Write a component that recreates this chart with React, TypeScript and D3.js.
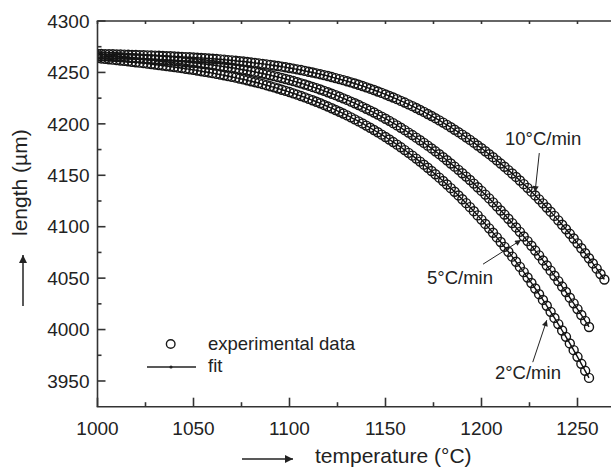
import React from 'react';
import * as d3 from 'd3';

const W = 611;
const H = 469;
const FONT = '"Liberation Sans", Arial, Helvetica, sans-serif';

// sampling grid of the dilatometer record (°C)
const TEMP_START = 1000;
const TEMP_STEP = 2;

// length (µm), one value per TEMP_STEP
const rate10 = [
  4268.0, 4267.9, 4267.8, 4267.7, 4267.6, 4267.5, 4267.4, 4267.3, 4267.2, 4267.1,
  4266.9, 4266.8, 4266.7, 4266.6, 4266.4, 4266.3, 4266.2, 4266.0, 4265.8, 4265.7,
  4265.5, 4265.3, 4265.1, 4264.9, 4264.7, 4264.5, 4264.3, 4264.0, 4263.8, 4263.5,
  4263.3, 4263.0, 4262.7, 4262.4, 4262.0, 4261.7, 4261.3, 4260.9, 4260.6, 4260.1,
  4259.7, 4259.3, 4258.8, 4258.3, 4257.8, 4257.3, 4256.7, 4256.2, 4255.6, 4255.0,
  4254.3, 4253.7, 4253.0, 4252.3, 4251.5, 4250.7, 4249.9, 4249.1, 4248.3, 4247.4,
  4246.5, 4245.5, 4244.5, 4243.5, 4242.5, 4241.4, 4240.3, 4239.2, 4238.0, 4236.8,
  4235.5, 4234.2, 4232.9, 4231.5, 4230.1, 4228.6, 4227.1, 4225.6, 4224.0, 4222.3,
  4220.7, 4218.9, 4217.2, 4215.4, 4213.5, 4211.6, 4209.6, 4207.6, 4205.5, 4203.4,
  4201.2, 4199.0, 4196.7, 4194.3, 4191.9, 4189.5, 4187.0, 4184.4, 4181.7, 4179.0,
  4176.3, 4173.4, 4170.5, 4167.6, 4164.5, 4161.4, 4158.3, 4155.0, 4151.7, 4148.4,
  4144.9, 4141.4, 4137.8, 4134.1, 4130.4, 4126.6, 4122.7, 4118.7, 4114.6, 4110.5,
  4106.2, 4101.9, 4097.5, 4093.1, 4088.5, 4083.8, 4079.1, 4074.2, 4069.3, 4064.3,
  4059.2, 4054.0, 4048.7,
];

const rate5 = [
  4266.0, 4265.8, 4265.6, 4265.4, 4265.2, 4265.0, 4264.8, 4264.6, 4264.3, 4264.1,
  4263.9, 4263.7, 4263.4, 4263.2, 4262.9, 4262.6, 4262.4, 4262.1, 4261.8, 4261.5,
  4261.2, 4260.8, 4260.5, 4260.1, 4259.7, 4259.4, 4259.0, 4258.5, 4258.1, 4257.6,
  4257.2, 4256.7, 4256.1, 4255.6, 4255.0, 4254.5, 4253.9, 4253.2, 4252.6, 4251.9,
  4251.2, 4250.5, 4249.7, 4248.9, 4248.1, 4247.3, 4246.4, 4245.5, 4244.6, 4243.6,
  4242.6, 4241.6, 4240.5, 4239.4, 4238.3, 4237.1, 4235.9, 4234.7, 4233.4, 4232.1,
  4230.7, 4229.3, 4227.9, 4226.4, 4224.8, 4223.3, 4221.6, 4220.0, 4218.3, 4216.5,
  4214.7, 4212.9, 4211.0, 4209.0, 4207.0, 4205.0, 4202.9, 4200.7, 4198.5, 4196.2,
  4193.9, 4191.5, 4189.1, 4186.6, 4184.1, 4181.5, 4178.8, 4176.1, 4173.3, 4170.5,
  4167.6, 4164.6, 4161.5, 4158.4, 4155.3, 4152.0, 4148.7, 4145.4, 4141.9, 4138.4,
  4134.8, 4131.2, 4127.5, 4123.7, 4119.8, 4115.8, 4111.8, 4107.7, 4103.5, 4099.3,
  4095.0, 4090.5, 4086.0, 4081.5, 4076.8, 4072.1, 4067.2, 4062.3, 4057.3, 4052.3,
  4047.1, 4041.8, 4036.5, 4031.0, 4025.5, 4019.9, 4014.2, 4008.4, 4002.5,
];

const rate2 = [
  4264.0, 4263.6, 4263.2, 4262.8, 4262.4, 4262.0, 4261.6, 4261.2, 4260.8, 4260.3,
  4259.9, 4259.5, 4259.0, 4258.6, 4258.1, 4257.7, 4257.2, 4256.7, 4256.2, 4255.7,
  4255.2, 4254.7, 4254.2, 4253.6, 4253.0, 4252.5, 4251.9, 4251.2, 4250.6, 4250.0,
  4249.3, 4248.6, 4247.9, 4247.2, 4246.4, 4245.7, 4244.9, 4244.0, 4243.2, 4242.3,
  4241.4, 4240.5, 4239.6, 4238.6, 4237.6, 4236.5, 4235.5, 4234.4, 4233.2, 4232.1,
  4230.9, 4229.6, 4228.4, 4227.1, 4225.7, 4224.3, 4222.9, 4221.5, 4220.0, 4218.4,
  4216.8, 4215.2, 4213.5, 4211.8, 4210.0, 4208.2, 4206.3, 4204.4, 4202.4, 4200.4,
  4198.3, 4196.2, 4194.0, 4191.8, 4189.5, 4187.2, 4184.8, 4182.3, 4179.8, 4177.2,
  4174.5, 4171.8, 4169.1, 4166.2, 4163.3, 4160.3, 4157.3, 4154.2, 4151.0, 4147.7,
  4144.4, 4141.0, 4137.5, 4134.0, 4130.4, 4126.7, 4122.9, 4119.0, 4115.1, 4111.0,
  4106.9, 4102.7, 4098.4, 4094.1, 4089.6, 4085.1, 4080.4, 4075.7, 4070.9, 4065.9,
  4060.9, 4055.8, 4050.6, 4045.3, 4039.9, 4034.4, 4028.8, 4023.1, 4017.2, 4011.3,
  4005.3, 3999.1, 3992.9, 3986.5, 3980.0, 3973.5, 3966.7, 3959.9, 3953.0,
];

const seriesNames = ['2°C/min', '5°C/min', '10°C/min'];
const seriesValues = [rate2, rate5, rate10];

const xTicksMajor = [1000, 1050, 1100, 1150, 1200, 1250];
const xTicksMinor = [1025, 1075, 1125, 1175, 1225];
const yTicksMajor = [3950, 4000, 4050, 4100, 4150, 4200, 4250, 4300];
const yTicksMinor = [3975, 4025, 4075, 4125, 4175, 4225, 4275];

// rate annotations in data units: label anchor, arrow start, arrow end
const annoLabels = ['10°C/min', '5°C/min', '2°C/min'];
const annoAnchor = ['start', 'end', 'start'];
const annoText = [[1212.2, 4179.4], [1206.0, 4044.2], [1207.0, 3951.8]];
const annoFrom = [[1230.1, 4171.6], [1200.8, 4063.6], [1226.7, 3968.3]];
const annoTo = [[1227.9, 4133.7], [1220.6, 4087.0], [1234.0, 4009.1]];

export default function App() {
  const x = d3.scaleLinear().domain([1000, 1267.45]).range([97.5, 611]);
  const y = d3.scaleLinear().domain([3925, 4300]).range([406.7, 21]);
  const [x0, x1] = x.range();
  const [yb, yt] = y.range();

  const line = d3
    .line<number>()
    .x((_, i) => x(TEMP_START + i * TEMP_STEP))
    .y((d) => y(d))
    .curve(d3.curveMonotoneX);

  const axisColor = '#333';
  const textColor = '#222';

  return (
    <svg
      width={W}
      height={H}
      style={{ position: 'absolute', left: 0, top: 0, background: '#fff' }}
      fontFamily={FONT}
    >
      <defs>
        <clipPath id="plot">
          <rect x={x0} y={yt} width={x1 - x0} height={yb - yt} />
        </clipPath>
        <marker id="headS" viewBox="0 0 10 10" refX="10" refY="5" markerWidth="9" markerHeight="6" markerUnits="userSpaceOnUse" orient="auto">
          <path d="M0,0 L10,5 L0,10 Z" fill="#222" />
        </marker>
        <marker id="headL" viewBox="0 0 10 10" refX="10" refY="5" markerWidth="11" markerHeight="8" markerUnits="userSpaceOnUse" orient="auto">
          <path d="M0,0 L10,5 L0,10 Z" fill="#222" />
        </marker>
      </defs>

      <rect x={0} y={0} width={W} height={H} fill="#fff" />

      {/* data */}
      <g clipPath="url(#plot)">
        {seriesValues.map((vals, si) => (
          <g key={seriesNames[si]}>
            <path d={line(vals) || ''} fill="none" stroke="#111" strokeWidth={1.4} />
            {vals.map((v, i) => (
              <circle
                key={i}
                cx={x(TEMP_START + i * TEMP_STEP)}
                cy={y(v)}
                r={4.5}
                fill="none"
                stroke="#151515"
                strokeWidth={1.4}
              />
            ))}
          </g>
        ))}
      </g>

      {/* axes */}
      <g stroke={axisColor} strokeWidth={1.6} fill="none">
        <line x1={x0} y1={yt} x2={x0} y2={yb} />
        <line x1={x0 - 0.8} y1={yb} x2={x1} y2={yb} />
        <line x1={x0 - 0.8} y1={yt} x2={x1} y2={yt} />
        {xTicksMajor.map((t) => (
          <line key={'xM' + t} x1={x(t)} x2={x(t)} y1={yb} y2={yb - 9} />
        ))}
        {xTicksMinor.map((t) => (
          <line key={'xm' + t} x1={x(t)} x2={x(t)} y1={yb} y2={yb - 4.5} />
        ))}
        {[...xTicksMajor, ...xTicksMinor].map((t) => (
          <line key={'xt' + t} x1={x(t)} x2={x(t)} y1={yt} y2={yt + 3} />
        ))}
        {yTicksMajor.map((t) => (
          <line key={'yM' + t} x1={x0} x2={x0 + 8} y1={y(t)} y2={y(t)} />
        ))}
        {yTicksMinor.map((t) => (
          <line key={'ym' + t} x1={x0} x2={x0 + 4} y1={y(t)} y2={y(t)} />
        ))}
      </g>

      {/* tick labels */}
      <g fill={textColor} fontSize={19}>
        {xTicksMajor.map((t) => (
          <text key={'xl' + t} x={x(t)} y={435} textAnchor="middle">
            {t}
          </text>
        ))}
        {yTicksMajor.map((t) => (
          <text key={'yl' + t} x={89.5} y={y(t)} dy="0.35em" textAnchor="end">
            {t}
          </text>
        ))}
      </g>

      {/* axis titles */}
      <text x={315} y={463} fontSize={21} fill={textColor}>
        temperature (°C)
      </text>
      <line x1={242} y1={459} x2={293} y2={459} stroke="#222" strokeWidth={1.5} markerEnd="url(#headL)" />
      <text
        transform="translate(27,236) rotate(-90)"
        fontSize={21}
        fill={textColor}
        textAnchor="start"
      >
        length (µm)
      </text>
      <line x1={23} y1={306} x2={23} y2={255} stroke="#222" strokeWidth={1.5} markerEnd="url(#headL)" />

      {/* rate annotations */}
      {annoLabels.map((lab, i) => (
        <g key={lab}>
          <text
            x={x(annoText[i][0])}
            y={y(annoText[i][1])}
            fontSize={18.5}
            fill={textColor}
            textAnchor={annoAnchor[i]}
          >
            {lab}
          </text>
          <line
            x1={x(annoFrom[i][0])}
            y1={y(annoFrom[i][1])}
            x2={x(annoTo[i][0])}
            y2={y(annoTo[i][1])}
            stroke="#222"
            strokeWidth={1}
            markerEnd="url(#headS)"
          />
        </g>
      ))}

      {/* legend */}
      <circle cx={170.7} cy={344} r={4.3} fill="none" stroke="#1a1a1a" strokeWidth={1.4} />
      <text x={208} y={350} fontSize={18.5} fill={textColor}>
        experimental data
      </text>
      <line x1={147} y1={367} x2={196} y2={367} stroke="#222" strokeWidth={1.6} />
      <circle cx={171} cy={367} r={1.6} fill="#222" />
      <text x={208} y={372} fontSize={18.5} fill={textColor}>
        fit
      </text>
    </svg>
  );
}
